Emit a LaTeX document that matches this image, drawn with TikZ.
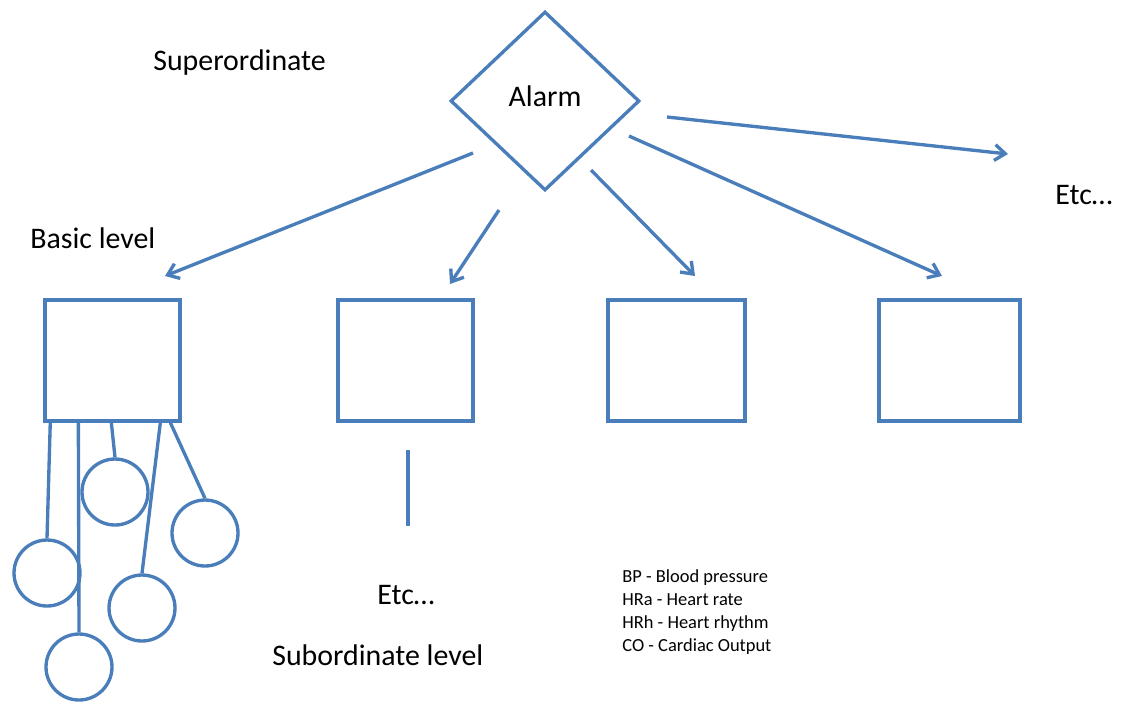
\documentclass[tikz,border=0pt]{standalone}
\usepackage{fontspec}
\setmainfont{Carlito}
\usetikzlibrary{shapes.geometric, arrows.meta, positioning, calc}
\definecolor{lineblue}{RGB}{74, 126, 187}

\begin{document}
\begin{tikzpicture}[x=0.02cm, y=-0.02cm,
    concept/.style={draw=lineblue, line width=1.9pt, fill=white, inner sep=0pt},
    link/.style={draw=lineblue, line width=1.9pt, -{Straight Barb[length=6pt, width=9pt]}},
    stem/.style={draw=lineblue, line width=1.9pt},
    lbl/.style={anchor=west, inner sep=0pt, font=\fontsize{17}{20}\selectfont}]
  \useasboundingbox (0,0) rectangle (1146,704);

  % superordinate
  \node[concept, diamond, minimum width=3.78cm, minimum height=3.58cm] (alarm) at (545,101) {};
  \node[lbl, anchor=center] (alarmlbl) at (545,96) {Alarm};

  % basic level
  \node[concept, minimum width=2.7cm, minimum height=2.42cm] (basic1) at (112.5,360.5) {};
  \node[concept, minimum width=2.7cm, minimum height=2.42cm] (basic2) at (405.5,360.5) {};
  \node[concept, minimum width=2.74cm, minimum height=2.42cm] (basic3) at (676.5,360.5) {};
  \node[concept, minimum width=2.82cm, minimum height=2.42cm] (basic4) at (949.5,360.5) {};

  \coordinate (from1) at (473,153); \coordinate (to1) at (165,276);
  \coordinate (from2) at (499,210); \coordinate (to2) at (450,284);
  \coordinate (from3) at (591,170); \coordinate (to3) at (695,276);
  \coordinate (from4) at (629,136); \coordinate (to4) at (942,276);
  \coordinate (from5) at (667,117); \coordinate (to5) at (1008,154);
  \foreach \i in {1,...,5}
    \draw[link] (from\i) -- (to\i);

  % subordinate level
  \node[concept, circle, minimum size=1.32cm] (sub1) at (47,573) {};
  \node[concept, circle, minimum size=1.32cm] (sub2) at (79,667) {};
  \node[concept, circle, minimum size=1.32cm] (sub3) at (115,492) {};
  \node[concept, circle, minimum size=1.32cm] (sub4) at (142,608) {};
  \node[concept, circle, minimum size=1.32cm] (sub5) at (205,533) {};

  \draw[stem] ($(basic1.south west)+(7,-3)$) -- (sub1.north);
  \draw[stem] ($(basic1.south west)+(35,0)$) -- (sub2.north);
  \draw[stem] ($(basic1.south west)+(68,0)$) -- (sub3.north);
  \draw[stem] ($(basic1.south west)+(117,0)$) -- (sub4.north);
  \draw[stem] ($(basic1.south west)+(127,0)$) -- (sub5.north);

  \coordinate (etctop) at (408,450);
  \coordinate (etcbot) at (408,526);
  \draw[stem] (etctop) -- (etcbot);

  % labels
  \node[lbl] (superlbl) at (153,63) {Superordinate};
  \node[lbl] (basiclbl) at (30,238) {Basic level};
  \node[lbl] (etcright) at (1055,195) {Etc…};
  \node[lbl] (etcsub) at (377,595) {Etc…};
  \node[lbl] (sublbl) at (272,655) {Subordinate level};
  \node[anchor=west, inner sep=0pt, align=left, font=\fontsize{10.5}{13}\selectfont]
    (legend) at (622,612) {BP - Blood pressure\\HRa - Heart rate\\HRh - Heart rhythm\\CO - Cardiac Output};
\end{tikzpicture}
\end{document}
